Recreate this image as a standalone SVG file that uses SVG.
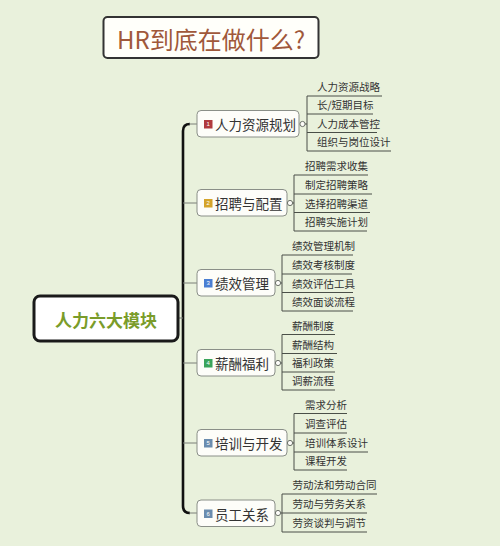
<svg xmlns="http://www.w3.org/2000/svg" width="500" height="546" viewBox="0 0 500 546">
<style>
text{font-family:"Noto Sans CJK SC","Noto Sans",sans-serif;}
.br{fill:#fdfdf9;stroke:#8a8f88;stroke-width:1;}
.bt{font-size:13.5px;fill:#333;dominant-baseline:central;}
.ct{font-size:10.5px;fill:#333;}
.ic{font-size:6px;fill:#fff;text-anchor:middle;dominant-baseline:central;font-family:"Liberation Sans",sans-serif;}
.ln{stroke:#4a4f48;stroke-width:1;fill:none;}
.cn{stroke:#7a7f78;stroke-width:1;fill:none;}
.dot{fill:#fdfdf9;stroke:#6a6f68;stroke-width:1;}
</style>
<rect width="500" height="546" fill="#e9f1dc"/>
<g id="title">
<rect x="103.5" y="17" width="215" height="41" rx="4" fill="#fffffa" stroke="#333" stroke-width="2"/>
<text x="211" y="38" font-size="24" fill="#a0583a" text-anchor="middle" dominant-baseline="central">HR到底在做什么?</text>
</g>
<g id="connectors">
<path d="M183,131 Q183,124 190,124 M183,131 V506 Q183,513 190,513" stroke="#111" stroke-width="2.6" fill="none"/>
<path class="cn" d="M189,124H197 M183,203H197 M183,283H197 M183,363H197 M183,443H197 M189,513H197 M178,318H183"/>
<path class="ln" d="M305,124H307 M292,203H294 M280,283H282 M280,363H282 M292,443H294 M280,513H282"/>
<path class="ln" d="M307,96V151 M307,96H382 M307,114H373 M307,132.5H377 M307,151H391"/>
<path class="ln" d="M294,175V231 M294,175H368 M294,194H372 M294,212.5H370 M294,231H367"/>
<path class="ln" d="M282,255V311 M282,255H353 M282,274H352 M282,292.5H353 M282,311H353"/>
<path class="ln" d="M282,334.5V390 M282,334.5H335 M282,353.5H337 M282,372H335 M282,390H335"/>
<path class="ln" d="M294,413.5V470 M294,413.5H347 M294,433H347 M294,452H368 M294,470H347"/>
<path class="ln" d="M282,494V532 M282,494H377 M282,513H367 M282,532H367"/>
</g>
<g id="center">
<rect x="34" y="296" width="144" height="45" rx="6" fill="#fff" stroke="#1a1a1a" stroke-width="3"/>
<text x="106" y="319" font-size="17" font-weight="bold" fill="#7a9c2a" text-anchor="middle" dominant-baseline="central">人力六大模块</text>
</g>
<g id="b1">
<rect class="br" x="197" y="110.5" width="102" height="26.5" rx="4"/>
<rect x="204" y="120" width="8.5" height="8.5" fill="#b03a3e"/><text class="ic" x="208.2" y="124.3">1</text>
<text class="bt" x="215" y="124">人力资源规划</text>
<circle class="dot" cx="302.5" cy="124" r="2.6"/>
<text class="ct" x="317" y="91">人力资源战略</text>
<text class="ct" x="317" y="109">长/短期目标</text>
<text class="ct" x="317" y="127.5">人力成本管控</text>
<text class="ct" x="317" y="146">组织与岗位设计</text>
</g>
<g id="b2">
<rect class="br" x="197" y="189.5" width="90" height="26.5" rx="4"/>
<rect x="204" y="199" width="8.5" height="8.5" fill="#d4a42a"/><text class="ic" x="208.2" y="203.3">2</text>
<text class="bt" x="215" y="203">招聘与配置</text>
<circle class="dot" cx="290" cy="203" r="2.6"/>
<text class="ct" x="305" y="170">招聘需求收集</text>
<text class="ct" x="305" y="189">制定招聘策略</text>
<text class="ct" x="305" y="207.5">选择招聘渠道</text>
<text class="ct" x="305" y="226">招聘实施计划</text>
</g>
<g id="b3">
<rect class="br" x="197" y="269.5" width="78" height="26.5" rx="4"/>
<rect x="204" y="279" width="8.5" height="8.5" fill="#4a7ed2"/><text class="ic" x="208.2" y="283.3">3</text>
<text class="bt" x="215" y="283">绩效管理</text>
<circle class="dot" cx="278" cy="283" r="2.6"/>
<text class="ct" x="292" y="250">绩效管理机制</text>
<text class="ct" x="292" y="269">绩效考核制度</text>
<text class="ct" x="292" y="287.5">绩效评估工具</text>
<text class="ct" x="292" y="306">绩效面谈流程</text>
</g>
<g id="b4">
<rect class="br" x="197" y="349.5" width="78" height="26.5" rx="4"/>
<rect x="204" y="359" width="8.5" height="8.5" fill="#3aa45a"/><text class="ic" x="208.2" y="363.3">4</text>
<text class="bt" x="215" y="363">薪酬福利</text>
<circle class="dot" cx="278" cy="363" r="2.6"/>
<text class="ct" x="292" y="329.5">薪酬制度</text>
<text class="ct" x="292" y="348.5">薪酬结构</text>
<text class="ct" x="292" y="367">福利政策</text>
<text class="ct" x="292" y="385">调薪流程</text>
</g>
<g id="b5">
<rect class="br" x="197" y="429.5" width="90" height="26.5" rx="4"/>
<rect x="204" y="439" width="8.5" height="8.5" fill="#6a8cae"/><text class="ic" x="208.2" y="443.3">5</text>
<text class="bt" x="215" y="443">培训与开发</text>
<circle class="dot" cx="290" cy="443" r="2.6"/>
<text class="ct" x="305" y="408.5">需求分析</text>
<text class="ct" x="305" y="428">调查评估</text>
<text class="ct" x="305" y="447">培训体系设计</text>
<text class="ct" x="305" y="465">课程开发</text>
</g>
<g id="b6">
<rect class="br" x="197" y="500" width="78" height="26.5" rx="4"/>
<rect x="204" y="509.5" width="8.5" height="8.5" fill="#6a8cae"/><text class="ic" x="208.2" y="513.8">6</text>
<text class="bt" x="215" y="513.5">员工关系</text>
<circle class="dot" cx="278" cy="513" r="2.6"/>
<text class="ct" x="292.5" y="489">劳动法和劳动合同</text>
<text class="ct" x="292.5" y="508">劳动与劳务关系</text>
<text class="ct" x="292.5" y="527">劳资谈判与调节</text>
</g>
</svg>
